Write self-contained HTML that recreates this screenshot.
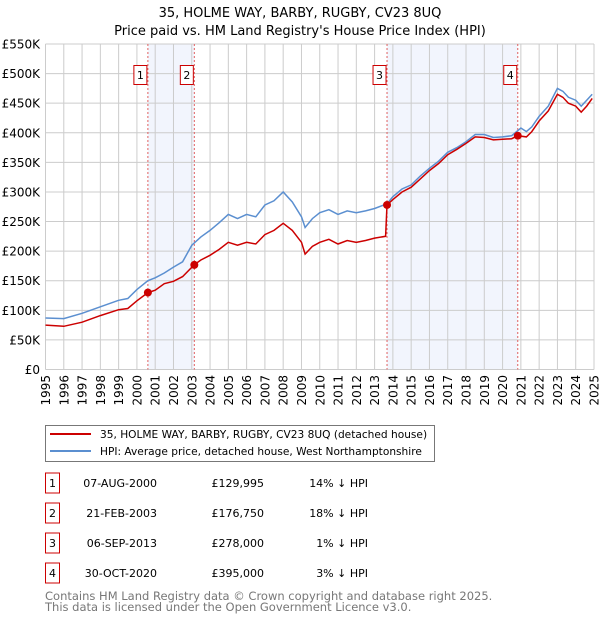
<!DOCTYPE html>
<html><head><meta charset="utf-8"><style>
body{margin:0;background:#fff;}
svg{font-family:"DejaVu Sans","Liberation Sans",sans-serif;}
</style></head><body>
<svg id="c" width="600" height="620" viewBox="0 0 600 620" xmlns="http://www.w3.org/2000/svg">
<text x="300" y="17" text-anchor="middle" font-size="13">35, HOLME WAY, BARBY, RUGBY, CV23 8UQ</text>
<text x="300" y="35" text-anchor="middle" font-size="13">Price paid vs. HM Land Registry's House Price Index (HPI)</text>
<g id="plot"></g>
<g>
<rect x="45.5" y="425.5" width="389" height="36" fill="#fff" stroke="#777"/>
<line x1="50" y1="434" x2="91" y2="434" stroke="#cc0000" stroke-width="2"/>
<text x="100" y="438" font-size="10.6">35, HOLME WAY, BARBY, RUGBY, CV23 8UQ (detached house)</text>
<line x1="50" y1="451" x2="91" y2="451" stroke="#5b8fd0" stroke-width="2"/>
<text x="100" y="455" font-size="10.6">HPI: Average price, detached house, West Northamptonshire</text>
</g>
<g id="table" font-size="11"></g>
<text x="45" y="600" font-size="11.5" fill="#777">Contains HM Land Registry data © Crown copyright and database right 2025.</text>
<text x="45" y="611" font-size="11.5" fill="#777">This data is licensed under the Open Government Licence v3.0.</text>
</svg>
<script>
const hpiYears=[1995,1996,1997,1998,1999,1999.5,2000,2000.6,2001,2001.5,2002,2002.5,2003,2003.5,2004,2004.5,2005,2005.5,2006,2006.5,2007,2007.5,2008,2008.5,2009,2009.2,2009.6,2010,2010.5,2011,2011.5,2012,2012.5,2013,2013.68,2014,2014.5,2015,2015.5,2016,2016.5,2017,2017.5,2018,2018.5,2019,2019.5,2020,2020.5,2021,2021.3,2021.6,2022,2022.5,2023,2023.3,2023.6,2024,2024.3,2024.6,2024.9];
const hpiValues=[87,86,95,106,117,120,135,150,155,163,173,182,210,224,235,248,262,255,262,258,278,285,300,283,258,240,255,265,270,262,268,265,268,272,280,292,305,312,327,340,352,367,375,385,397,397,392,393,395,408,402,410,428,445,475,470,460,455,445,455,465];
const priceYears=[1995,1996,1997,1998,1999,1999.5,2000,2000.6,2001,2001.5,2002,2002.5,2003.14,2003.5,2004,2004.5,2005,2005.5,2006,2006.5,2007,2007.5,2008,2008.5,2009,2009.2,2009.6,2010,2010.5,2011,2011.5,2012,2012.5,2013,2013.6,2013.68,2014,2014.5,2015,2015.5,2016,2016.5,2017,2017.5,2018,2018.5,2019,2019.5,2020,2020.5,2020.83,2021.3,2021.6,2022,2022.5,2023,2023.3,2023.6,2024,2024.3,2024.6,2024.9];
const priceValues=[75,73,80,91,101,103,116,130,134,145,149,157,177,185,193,203,215,210,215,212,228,235,247,235,215,195,208,215,220,212,218,215,218,222,225,278,287,300,308,322,336,348,363,372,382,393,392,388,389,390,395,393,402,420,437,465,460,450,445,435,445,458];
const saleYears=[2000.6,2003.14,2013.68,2020.83];
const salePrices=[129.995,176.75,278,395];
const saleDates=["07-AUG-2000","21-FEB-2003","06-SEP-2013","30-OCT-2020"];
const saleLabels=["£129,995","£176,750","£278,000","£395,000"];
const saleDiffs=["14% ↓ HPI","18% ↓ HPI","1% ↓ HPI","3% ↓ HPI"];
const yTicks=[0,50,100,150,200,250,300,350,400,450,500,550];
const yTickLabels=["£0","£50K","£100K","£150K","£200K","£250K","£300K","£350K","£400K","£450K","£500K","£550K"];
const xTicks=[1995,1996,1997,1998,1999,2000,2001,2002,2003,2004,2005,2006,2007,2008,2009,2010,2011,2012,2013,2014,2015,2016,2017,2018,2019,2020,2021,2022,2023,2024,2025];

const X0=45.5,X1=594,Y0=369.5,Y1=44;
const xs=y=>X0+(y-1995)/30*(X1-X0);
const ys=v=>Y0-v/550*(Y0-Y1);
const NS="http://www.w3.org/2000/svg";
const plot=document.getElementById('plot');
function mk(tag,attrs,parent){const e=document.createElementNS(NS,tag);for(const k in attrs)e.setAttribute(k,attrs[k]);(parent||plot).appendChild(e);return e;}

for(let i=0;i<2;i++){
  const r=mk('rect',{x:xs(saleYears[i*2]),y:Y1,width:xs(saleYears[i*2+1])-xs(saleYears[i*2]),height:Y0-Y1,fill:'#edf2fc',opacity:0.75});
  
  
}
yTicks.forEach((v,i)=>{
  const l=mk('line',{x1:X0,x2:X1,y1:ys(v),y2:ys(v),stroke:'#ccc'});
  
  
  const t=mk('text',{x:40,y:ys(v)+4.5,'text-anchor':'end','font-size':12});
  t.textContent=yTickLabels[i];
  
  
});
xTicks.forEach(v=>{
  const l=mk('line',{x1:xs(v),x2:xs(v),y1:Y1,y2:Y0,stroke:'#ccc'});
  
  
  const t=mk('text',{x:0,y:0,'font-size':12,'text-anchor':'end',transform:`translate(${xs(v)+4.5},375) rotate(-90)`});
  t.textContent=v;
  
  
});
saleYears.forEach((y,i)=>{
  const l=mk('line',{x1:xs(y),x2:xs(y),y1:Y1,y2:Y0,stroke:'#e06060','stroke-dasharray':'2,2','stroke-width':1});
  
  
  const g=mk('g',{});
  
  
  mk('rect',{x:xs(y)-14,y:65.5,width:13,height:19,fill:'#fff',stroke:'#cc0000'},g);
  const t=mk('text',{x:xs(y)-7.5,y:79,'text-anchor':'middle','font-size':11},g);
  t.textContent=i+1;
});
function line(xa,va,color,name){
  const d=xa.map((x,i)=>(i?'L':'M')+xs(x).toFixed(1)+','+ys(va[i]).toFixed(1)).join('');
  const p=mk('path',{d:d,fill:'none',stroke:color,'stroke-width':1.5});
  
  
}
line(hpiYears,hpiValues,'#5b8fd0','hpi-line');
line(priceYears,priceValues,'#cc0000','price-paid-line');
saleYears.forEach((y,i)=>{
  const c=mk('circle',{cx:xs(y),cy:ys(salePrices[i]),r:4,fill:'#cc0000'});
  
  
});
const tbl=document.getElementById('table');
saleDates.forEach((d,i)=>{
  const cy=483+i*30;
  const g=mk('g',{},tbl);
  
  
  mk('rect',{x:45.5,y:cy-10,width:14,height:20,fill:'#fff',stroke:'#cc0000'},g);
  const n=mk('text',{x:52.5,y:cy+4,'text-anchor':'middle'},g);n.textContent=i+1;
  const a=mk('text',{x:157,y:cy+4,'text-anchor':'end'},g);a.textContent=d;
  const b=mk('text',{x:264,y:cy+4,'text-anchor':'end'},g);b.textContent=saleLabels[i];
  const c=mk('text',{x:368,y:cy+4,'text-anchor':'end'},g);c.textContent=saleDiffs[i];
});
</script>
</body></html>
